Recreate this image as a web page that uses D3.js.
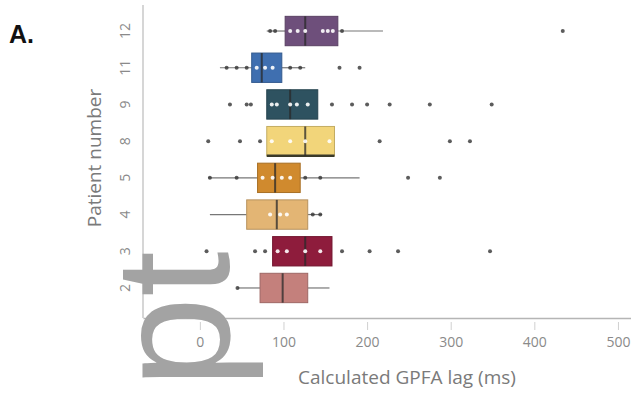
<!DOCTYPE html>
<html>
<head>
<meta charset="utf-8">
<script src="https://cdn.jsdelivr.net/npm/d3@7"></script>
<style>
  body { margin: 0; background: #fff; }
  svg { display: block; }
</style>
</head>
<body>
<div id="chart"></div>
<script>
// patients, top to bottom
const patients = ["12", "11", "9", "8", "5", "4", "3", "2"];
// box stats: [whisker low, q1, median, q3, whisker high]
const boxStats = [
  [80, 102, 126, 165, 219],
  [24, 62, 74, 98, 126],
  [80, 80, 108, 141, 141],
  [80, 80, 126, 161, 161],
  [10, 69, 90, 120, 191],
  [12, 56, 92, 129, 146],
  [87, 87, 126, 158, 158],
  [45, 72, 99, 129, 155]
];
// individual lags drawn as dots
const points = [
  [84, 90, 108, 117, 126, 147, 153, 159, 170, 434],
  [32, 44, 56, 68, 78, 87, 108, 120, 167, 191],
  [36, 56, 61, 86, 92, 108, 116, 129, 158, 182, 200, 227, 275, 349],
  [10, 48, 72, 86, 108, 126, 155, 215, 299, 323],
  [12, 44, 75, 87, 98, 108, 126, 144, 249, 287],
  [84, 96, 104, 135, 144],
  [8, 66, 78, 93, 104, 126, 144, 170, 203, 237, 347],
  [45]
];
const fills = ["#6e4f7b", "#3f6fb0", "#2e5260", "#f2d57a", "#d08a2e", "#e3b574", "#8e1c3c", "#c4807c"];
const xTicks = [0, 100, 200, 300, 400, 500];

const width = 631, height = 393;
const svg = d3.select("#chart").append("svg")
  .attr("width", width)
  .attr("height", height);

const x = d3.scaleLinear().domain([-68, 515]).range([143, 630.5]);
const y = d3.scaleBand().domain(patients).range([9, 310]).padding(0.2);
const axisY = 318;

// axes
const xAxis = svg.append("g")
  .attr("transform", `translate(0,${axisY})`)
  .call(d3.axisBottom(x).tickValues(xTicks).tickSize(9).tickPadding(10).tickSizeOuter(0));
xAxis.select(".domain").attr("stroke", "#b5b5b5").attr("stroke-width", 1.5);
xAxis.selectAll(".tick line").attr("stroke", "#d0d0d0").attr("y1", 4).attr("y2", 12);
xAxis.selectAll(".tick text")
  .style("font-family", "Open Sans")
  .style("font-size", "14px")
  .attr("fill", "#8a8a8a");

svg.append("line")
  .attr("x1", 143).attr("x2", 143)
  .attr("y1", 5).attr("y2", axisY)
  .attr("stroke", "#c8c8c8").attr("stroke-width", 1.5);

svg.append("g").selectAll("text")
  .data(patients)
  .join("text")
  .attr("transform", d => `translate(125,${y(d) + y.bandwidth() / 2}) rotate(-90)`)
  .attr("text-anchor", "middle")
  .attr("dy", "0.35em")
  .style("font-family", "Open Sans")
  .style("font-size", "14px")
  .attr("fill", "#8a8a8a")
  .text(d => d);

// boxes
const rows = svg.append("g").selectAll("g")
  .data(patients)
  .join("g")
  .attr("transform", d => `translate(0,${y(d)})`);

const bh = y.bandwidth();

rows.each(function (p, i) {
  const g = d3.select(this);
  const [wl, q1, med, q3, wh] = boxStats[i];
  if (wl < q1) {
    g.append("line").attr("x1", x(wl)).attr("x2", x(q1))
      .attr("y1", bh / 2).attr("y2", bh / 2)
      .attr("stroke", "#777").attr("stroke-width", 1.2);
  }
  if (wh > q3) {
    g.append("line").attr("x1", x(q3)).attr("x2", x(wh))
      .attr("y1", bh / 2).attr("y2", bh / 2)
      .attr("stroke", "#777").attr("stroke-width", 1.2);
  }
  g.append("rect")
    .attr("x", x(q1)).attr("y", 0)
    .attr("width", x(q3) - x(q1)).attr("height", bh)
    .attr("fill", fills[i])
    .attr("stroke", d3.color(fills[i]).darker(0.6))
    .attr("stroke-width", 1);
  if (p === "8") {
    // dark lower edge on this box
    g.append("line")
      .attr("x1", x(q1)).attr("x2", x(q3))
      .attr("y1", bh).attr("y2", bh)
      .attr("stroke", "#3a3a2a").attr("stroke-width", 2.5);
  }
  g.append("line")
    .attr("x1", x(med)).attr("x2", x(med))
    .attr("y1", 0).attr("y2", bh)
    .attr("stroke", "#2a2a2a").attr("stroke-opacity", 0.75).attr("stroke-width", 2);

  g.selectAll("circle")
    .data(points[i])
    .join("circle")
    .attr("cx", d => x(d))
    .attr("cy", bh / 2)
    .attr("r", 2)
    .attr("fill", d => (d > q1 && d < q3) ? "#fff" : "#333")
    .attr("fill-opacity", d => (d > q1 && d < q3) ? 0.9 : 0.8);
});

// axis titles
svg.append("text")
  .attr("transform", "translate(101,158) rotate(-90)")
  .attr("text-anchor", "middle")
  .style("font-family", "Open Sans")
  .style("font-size", "19px")
  .attr("fill", "#7a7a7a")
  .text("Patient number");

svg.append("text")
  .attr("x", 407).attr("y", 384)
  .attr("text-anchor", "middle")
  .style("font-family", "Open Sans")
  .style("font-size", "19px")
  .attr("fill", "#7a7a7a")
  .text("Calculated GPFA lag (ms)");

svg.append("text")
  .attr("x", 9).attr("y", 43)
  .style("font-family", "Liberation Sans")
  .style("font-weight", "bold")
  .style("font-size", "25px")
  .attr("fill", "#111")
  .text("A.");

// big grey overlay
svg.append("text")
  .attr("transform", "translate(229,388) rotate(-90)")
  .style("font-family", "Liberation Sans")
  .style("font-size", "164px")
  .attr("fill", "#a3a3a3")
  .text("pt");
</script>
</body>
</html>
